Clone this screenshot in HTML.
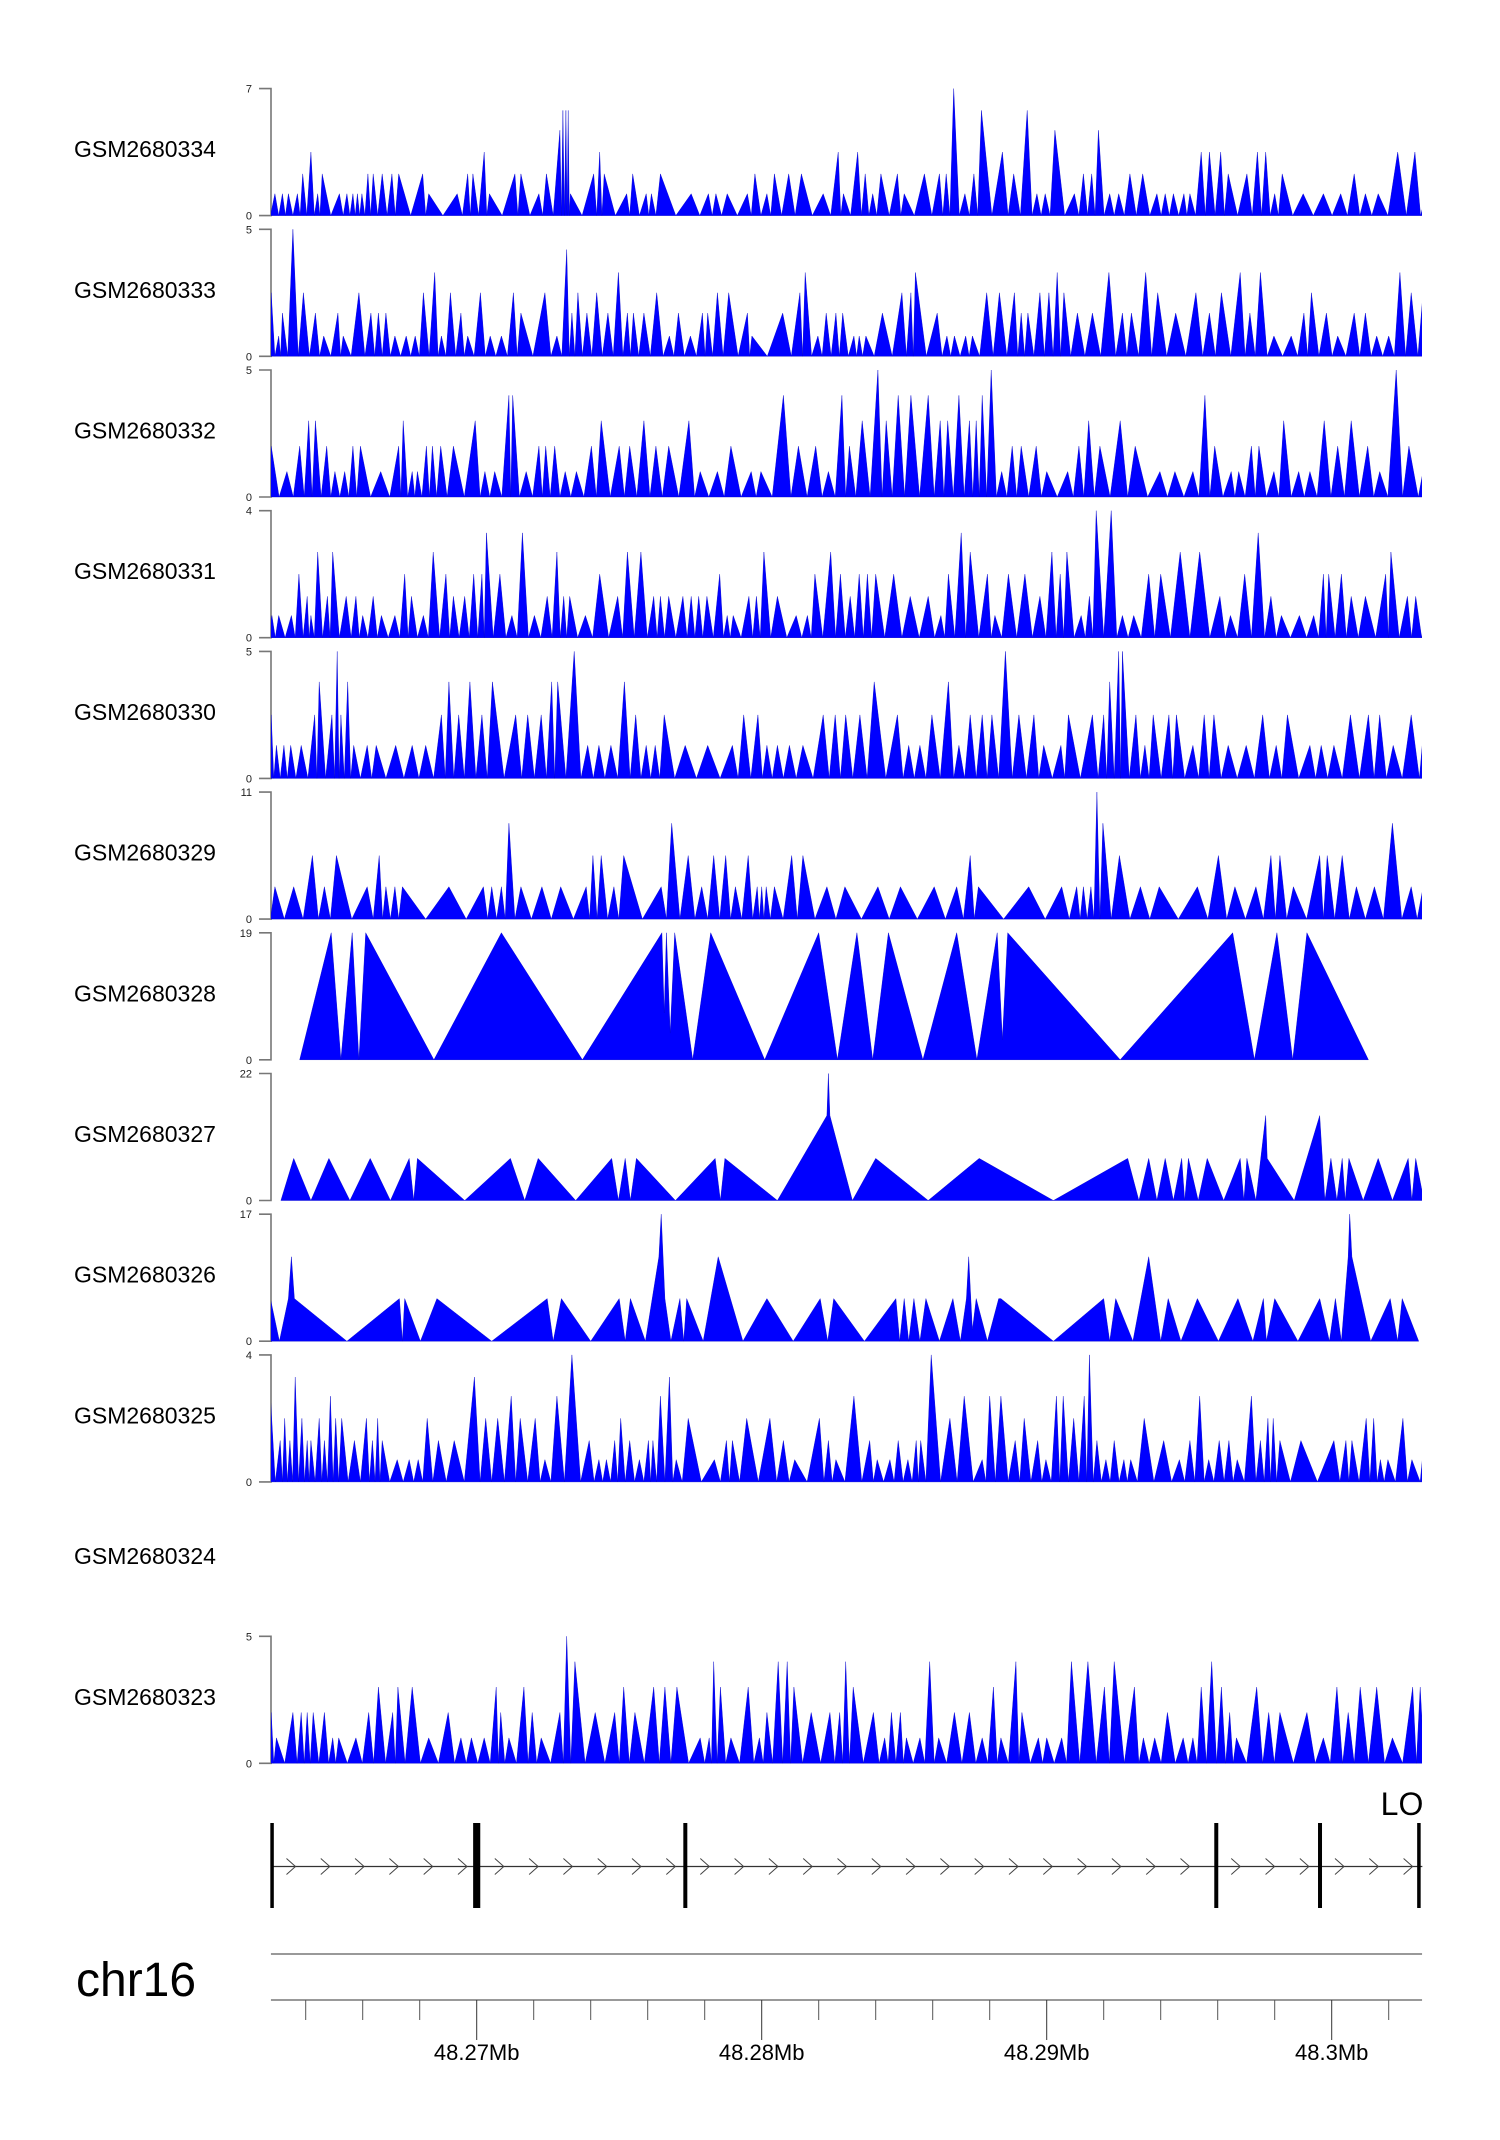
<!DOCTYPE html>
<html><head><meta charset="utf-8">
<style>
html,body{margin:0;padding:0;background:#fff;}
svg{display:block;font-family:"Liberation Sans",Arial,sans-serif;}
</style></head>
<body>
<svg id="chart" width="1500" height="2140" viewBox="0 0 1500 2140" xmlns="http://www.w3.org/2000/svg">
<defs><clipPath id="plotClip"><rect x="271" y="0" width="1151" height="2140"/></clipPath></defs>
<g id="tracks"></g>
<g id="gene"></g>
<g id="axis"></g>
</svg>
<script>
// ---- data ----
const REF_START_KB = 48262.394;   // genomic start of bin 0 (kb)
const BIN_KB = 0.026316;          // bin size (kb)
const trackNames = ["GSM2680334","GSM2680333","GSM2680332","GSM2680331","GSM2680330","GSM2680329","GSM2680328","GSM2680327","GSM2680326","GSM2680325","GSM2680324","GSM2680323"];
const trackMax = [7,5,5,4,5,11,19,22,17,4,null,5];

// peak-style tracks: [bin, value]
const gsm2680334 = [[20,1.2],[30,1.2],[38,1.2],[50,1.2],[57,2.3],[68,3.5],[77,1.2],[83,2.3],[106,1.2],[116,1.2],[124,1.2],[130,1.2],[136,1.2],[144,2.3],[151,2.3],[163,2.3],[176,2.3],[185,2.3],[217,2.3],[225,1.2],[263,1.2],[277,2.3],[284,2.3],[299,3.5],[306,1.2],[340,2.3],[348,2.3],[372,1.2],[382,2.3],[400,4.7],[404,5.8],[408,5.8],[411,5.8],[414,1.2],[445,2.3],[453,3.5],[459,2.3],[489,1.2],[497,2.3],[515,1.2],[522,1.2],[534,2.3],[575,1.2],[598,1.2],[608,1.2],[623,1.2],[650,1.2],[660,2.3],[676,1.2],[686,2.3],[705,2.3],[722,2.3],[751,1.2],[771,3.5],[778,1.2],[797,3.5],[807,2.3],[817,1.2],[828,2.3],[850,2.3],[859,1.2],[886,2.3],[906,2.3],[915,2.3],[925,7],[940,1.2],[952,2.3],[962,5.8],[990,3.5],[1005,2.3],[1023,5.8],[1036,1.2],[1047,1.2],[1060,4.7],[1086,1.2],[1098,2.3],[1109,2.3],[1118,4.7],[1133,1.2],[1145,1.2],[1160,2.3],[1177,2.3],[1196,1.2],[1207,1.2],[1218,1.2],[1232,1.2],[1240,1.2],[1255,3.5],[1266,3.5],[1281,3.5],[1291,2.3],[1316,2.3],[1330,3.5],[1341,3.5],[1353,1.2],[1363,2.3],[1391,1.2],[1418,1.2],[1441,1.2],[1459,2.3],[1474,1.2],[1491,1.2],[1517,3.5],[1540,3.5],[1555,1.2]];
const gsm2680333 = [[15,2.5],[25,.8],[30,1.7],[44,5],[58,2.5],[74,1.7],[85,.8],[104,1.7],[111,.8],[132,2.5],[148,1.7],[158,1.7],[168,1.7],[180,.8],[195,.8],[207,.8],[218,2.5],[233,3.3],[242,.8],[254,2.5],[268,1.7],[277,.8],[294,2.5],[307,.8],[322,.8],[338,2.5],[348,1.7],[380,2.5],[396,.8],[409,4.2],[416,1.7],[424,2.5],[436,1.7],[449,2.5],[464,1.7],[478,3.3],[490,1.7],[498,1.7],[512,1.7],[529,2.5],[546,.8],[558,1.7],[574,.8],[590,1.7],[597,1.7],[610,2.5],[625,2.5],[650,1.7],[656,.8],[697,1.7],[720,2.5],[727,3.3],[744,.8],[755,1.7],[768,1.7],[777,1.7],[792,.8],[799,.8],[808,.8],[830,1.7],[856,2.5],[868,2.5],[874,3.3],[903,1.7],[916,.8],[926,.8],[941,.8],[950,.8],[969,2.5],[986,2.5],[1006,2.5],[1015,1.7],[1024,1.7],[1040,2.5],[1052,2.5],[1063,3.3],[1072,2.5],[1090,1.7],[1110,1.7],[1132,3.3],[1150,1.7],[1162,1.7],[1181,3.3],[1197,2.5],[1221,1.7],[1248,2.5],[1266,1.7],[1282,2.5],[1307,3.3],[1320,1.7],[1334,3.3],[1352,.8],[1375,.8],[1392,1.7],[1402,2.5],[1422,1.7],[1437,.8],[1459,1.7],[1474,1.7],[1489,.8],[1505,.8],[1520,3.3],[1535,2.5],[1553,3.3]];
const gsm2680332 = [[15,2],[36,1],[53,2],[65,3],[74,3],[89,2],[100,1],[113,1],[124,2],[134,2],[161,1],[185,2],[191,3],[203,1],[210,1],[222,2],[230,2],[241,2],[258,2],[287,3],[300,1],[313,1],[332,4],[337,4],[355,1],[372,2],[381,2],[393,2],[407,1],[422,1],[442,2],[455,3],[479,2],[493,2],[512,3],[528,2],[545,2],[572,3],[587,1],[610,1],[628,2],[655,1],[668,1],[698,4],[718,2],[741,2],[758,1],[776,4],[786,2],[803,3],[824,5],[835,3],[851,4],[868,4],[891,4],[907,3],[917,3],[932,4],[946,3],[955,3],[963,4],[975,5],[989,1],[1003,2],[1015,2],[1035,2],[1049,1],[1077,1],[1092,2],[1105,3],[1120,2],[1147,3],[1167,2],[1200,1],[1220,1],[1244,1],[1260,4],[1273,2],[1295,1],[1305,1],[1322,2],[1332,2],[1352,1],[1365,3],[1385,1],[1400,1],[1419,3],[1437,2],[1455,3],[1477,2],[1493,1],[1515,5],[1532,2],[1557,2]];
const gsm2680331 = [[16,.7],[25,.7],[42,.7],[52,2],[63,1.3],[68,.7],[77,2.7],[90,1.3],[97,2.7],[115,1.3],[128,1.3],[137,.7],[151,1.3],[162,.7],[180,.7],[193,2],[202,1.3],[218,.7],[231,2.7],[248,2],[258,1.3],[273,1.3],[285,2],[296,2],[302,3.3],[320,2],[336,.7],[350,3.3],[366,.7],[383,1.3],[396,2.7],[405,1.3],[413,1.3],[434,.7],[453,2],[477,1.3],[490,2.7],[508,2.7],[525,1.3],[534,1.3],[545,1.3],[564,1.3],[575,1.3],[585,1.3],[596,1.3],[613,2],[623,.7],[631,.7],[652,1.3],[662,1.3],[672,2.7],[690,1.3],[715,.7],[730,.7],[740,2],[761,2.7],[774,2],[787,1.3],[799,2],[810,2],[821,2],[845,2],[867,1.3],[891,1.3],[908,.7],[918,2],[935,3.3],[947,2.7],[970,2],[980,.7],[998,2],[1020,2],[1040,1.3],[1056,2.7],[1067,2],[1076,2.7],[1095,.7],[1106,1.3],[1115,4],[1135,4],[1150,.7],[1165,.7],[1185,2],[1201,2],[1227,2.7],[1253,2.7],[1280,1.3],[1294,.7],[1313,2],[1331,3.3],[1348,1.3],[1362,.7],[1386,.7],[1405,.7],[1418,2],[1425,2],[1442,2],[1455,1.3],[1474,1.3],[1501,2],[1508,2.7],[1530,1.3],[1541,1.3],[1557,1.3]];
const gsm2680330 = [[15,2.5],[22,1.3],[32,1.3],[41,1.3],[55,1.3],[73,2.5],[79,3.8],[96,2.5],[103,5],[108,2.5],[117,3.8],[125,1.3],[143,1.3],[155,1.3],[181,1.3],[203,1.3],[221,1.3],[242,2.5],[252,3.8],[265,2.5],[280,3.8],[296,2.5],[310,3.8],[341,2.5],[357,2.5],[375,2.5],[389,3.8],[397,3.8],[419,5],[437,1.3],[452,1.3],[468,1.3],[486,3.8],[501,2.5],[515,1.3],[527,1.3],[539,2.5],[567,1.3],[597,1.3],[630,1.3],[645,2.5],[664,2.5],[676,1.3],[690,1.3],[706,1.3],[724,1.3],[751,2.5],[767,2.5],[781,2.5],[800,2.5],[819,3.8],[850,2.5],[865,1.3],[880,1.3],[896,2.5],[918,3.8],[932,1.3],[947,2.5],[963,2.5],[976,2.5],[994,5],[1012,2.5],[1032,2.5],[1045,1.3],[1068,1.3],[1078,2.5],[1110,2.5],[1125,2.5],[1133,3.8],[1145,5],[1150,5],[1168,2.5],[1180,1.3],[1191,2.5],[1212,2.5],[1222,2.5],[1244,1.3],[1259,2.5],[1272,2.5],[1291,1.3],[1315,1.3],[1337,2.5],[1355,1.3],[1370,2.5],[1400,1.3],[1415,1.3],[1432,1.3],[1454,2.5],[1478,2.5],[1493,2.5],[1511,1.3],[1535,2.5],[1557,3.8]];
const gsm2680329 = [[20,2.8],[45,2.8],[70,5.5],[86,2.8],[102,5.5],[143,2.8],[159,5.5],[168,2.8],[180,2.8],[190,2.8],[252,2.8],[298,2.8],[309,2.8],[322,2.8],[332,8.3],[348,2.8],[376,2.8],[401,2.8],[435,2.8],[444,5.5],[455,5.5],[472,2.8],[485,5.5],[535,2.8],[549,8.3],[571,5.5],[589,2.8],[605,5.5],[621,5.5],[634,2.8],[651,5.5],[663,2.8],[669,2.8],[675,2.8],[686,2.8],[709,5.5],[724,5.5],[756,2.8],[780,2.8],[824,2.8],[854,2.8],[899,2.8],[929,2.8],[947,5.5],[958,2.8],[1025,2.8],[1069,2.8],[1089,2.8],[1098,2.8],[1108,2.8],[1116,11],[1124,8.3],[1146,5.5],[1174,2.8],[1199,2.8],[1250,2.8],[1278,5.5],[1300,2.8],[1328,2.8],[1348,5.5],[1360,5.5],[1378,2.8],[1413,5.5],[1423,5.5],[1443,5.5],[1462,2.8],[1486,2.8],[1510,8.3],[1535,2.8],[1551,2.8]];
const gsm2680325 = [[14,2.7],[27,1.3],[33,2],[40,1.3],[47,3.3],[56,2],[63,1.3],[68,1.3],[79,2],[86,1.3],[94,2.7],[101,2],[109,2],[126,1.3],[142,2],[150,1.3],[157,2],[163,1.3],[183,.7],[199,.7],[211,.7],[223,2],[238,1.3],[259,1.3],[286,3.3],[301,2],[317,2],[335,2.7],[347,2],[367,2],[380,.7],[396,2.7],[416,4],[439,1.3],[452,.7],[462,.7],[473,1.3],[481,2],[493,1.3],[506,.7],[518,1.3],[524,1.3],[534,2.7],[546,3.3],[555,.7],[571,2],[606,.7],[622,1.3],[630,1.3],[649,2],[680,2],[698,1.3],[713,.7],[746,2],[758,1.3],[768,.7],[792,2.7],[813,1.3],[823,.7],[840,.7],[851,1.3],[864,.7],[875,1.3],[881,1.3],[895,4],[920,2],[939,2.7],[963,.7],[973,2.7],[988,2.7],[1007,1.3],[1019,2],[1037,1.3],[1048,.7],[1062,2.7],[1071,2.7],[1085,2],[1099,2.7],[1106,4],[1116,1.3],[1128,.7],[1139,1.3],[1152,.7],[1161,.7],[1179,2],[1205,1.3],[1226,.7],[1240,1.3],[1253,2.7],[1265,.7],[1279,1.3],[1292,1.3],[1303,.7],[1322,2.7],[1334,1.3],[1344,2],[1351,2],[1360,1.3],[1388,1.3],[1432,1.3],[1448,1.3],[1456,1.3],[1475,2],[1485,2],[1494,.7],[1504,.7],[1524,2],[1536,.7],[1558,2.7]];
const gsm2680324 = [];
const gsm2680323 = [[15,2],[22,1],[44,2],[55,2],[63,2],[71,2],[86,2],[97,1],[105,1],[128,1],[145,2],[158,3],[177,2],[184,3],[203,3],[225,1],[251,2],[268,1],[282,1],[299,1],[315,3],[321,2],[332,1],[352,3],[363,2],[375,1],[400,2],[409,5],[420,4],[447,2],[473,2],[485,3],[500,2],[525,3],[540,3],[556,3],[587,1],[599,1],[605,4],[614,3],[628,1],[651,3],[666,1],[676,2],[691,4],[703,4],[712,3],[735,2],[760,2],[773,2],[781,4],[791,3],[818,2],[833,1],[842,2],[854,2],[862,1],[880,1],[893,4],[905,1],[926,2],[946,2],[963,1],[978,3],[988,1],[1008,4],[1016,2],[1038,1],[1049,1],[1069,1],[1082,4],[1104,4],[1126,3],[1139,4],[1166,3],[1178,1],[1193,1],[1210,2],[1231,1],[1244,1],[1255,3],[1269,4],[1282,3],[1293,2],[1302,1],[1329,3],[1345,2],[1360,2],[1396,2],[1418,1],[1436,3],[1451,2],[1467,3],[1489,3],[1510,1],[1537,3],[1547,3],[1558,4]];

// full-profile tracks: [bin, value] including zero points
const gsm2680328 = [[53,0],[95,19],[108,0],[123,19],[132,0],[141,19],[232,0],[322,19],[430,0],[536,19],[539,7],[542,19],[547,4],[553,19],[577,0],[601,19],[673,0],[745,19],[770,0],[796,19],[817,0],[838,19],[884,0],[929,19],[956,0],[983,19],[990,3],[997,19],[1147,0],[1297,19],[1326,0],[1356,19],[1377,0],[1396,19],[1478,0]];
const gsm2680327 = [[28,0],[45,7.3],[68,0],[92,7.3],[120,0],[147,7.3],[174,0],[199,7.3],[205,0],[210,7.3],[273,0],[334,7.3],[353,0],[371,7.3],[421,0],[469,7.3],[478,0],[487,7.3],[494,0],[502,7.3],[554,0],[607,7.3],[614,0],[620,7.3],[690,0],[756,14.7],[758,22],[760,14.7],[790,0],[821,7.3],[891,0],[959,7.3],[1058,0],[1157,7.3],[1172,0],[1185,7.3],[1196,0],[1207,7.3],[1218,0],[1229,7.3],[1233,0],[1238,7.3],[1251,0],[1263,7.3],[1285,0],[1307,7.3],[1312,0],[1316,7.3],[1328,0],[1341,14.7],[1343,7.3],[1379,0],[1413,14.7],[1420,0],[1428,7.3],[1436,0],[1443,7.3],[1447,0],[1452,7.3],[1471,0],[1491,7.3],[1510,0],[1531,7.3],[1536,0],[1541,7.3],[1552,0]];
const gsm2680326 = [[12,0],[14,5.7],[26,0],[38,5.7],[42,11.3],[46,5.7],[116,0],[186,5.7],[190,0],[193,5.7],[214,0],[236,5.7],[309,0],[383,5.7],[391,0],[402,5.7],[441,0],[479,5.7],[487,0],[494,5.7],[514,0],[532,11.3],[535,17],[540,5.7],[548,0],[560,5.7],[565,0],[569,5.7],[591,0],[611,11.3],[644,0],[676,5.7],[711,0],[747,5.7],[757,0],[765,5.7],[806,0],[848,5.7],[853,0],[859,5.7],[865,0],[872,5.7],[880,0],[888,5.7],[906,0],[924,5.7],[934,0],[942,5.7],[945,11.3],[950,1.5],[955,5.7],[970,0],[985,5.7],[988,5.7],[1058,0],[1125,5.7],[1133,0],[1141,5.7],[1164,0],[1185,11.3],[1201,0],[1211,5.7],[1228,0],[1250,5.7],[1278,0],[1304,5.7],[1324,0],[1338,5.7],[1342,0],[1353,5.7],[1384,0],[1413,5.7],[1426,0],[1434,5.7],[1442,0],[1451,11.3],[1453,17],[1456,11.3],[1481,0],[1507,5.7],[1517,0],[1523,5.7],[1545,0]];

const peakTracks = [gsm2680334,gsm2680333,gsm2680332,gsm2680331,gsm2680330,gsm2680329,null,null,null,gsm2680325,gsm2680324,gsm2680323];
const profileTracks = [null,null,null,null,null,null,gsm2680328,gsm2680327,gsm2680326,null,null,null];

// gene model (kb positions)
const exonStartsKb = [48262.82,48270.00,48277.32,48295.95,48299.59,48303.06];
const exonLengthsKb = [0.12,0.25,0.14,0.14,0.14,0.12];
const geneName = "LO";
const majorTicksMb = [48.27,48.28,48.29,48.3];
const majorTickLabels = ["48.27Mb","48.28Mb","48.29Mb","48.3Mb"];
const minorTickKb = [48264,48266,48268,48272,48274,48276,48278,48282,48284,48286,48288,48292,48294,48296,48298,48302];
const chromName = "chr16";
const axisStartKb = 48262.78, axisEndKb = 48303.17;

// ---- scales ----
const NS = "http://www.w3.org/2000/svg";
function xKb(kb){ return 476.7 + (kb - 48270) * 28.5; }
function xBin(b){ return xKb(REF_START_KB + b * BIN_KB); }
const TRACK_TOP0 = 88.6, TRACK_STEP = 140.7, TRACK_H = 127;
function trackTop(i){ return TRACK_TOP0 + i * TRACK_STEP; }
function yVal(v, i){ return trackTop(i) + TRACK_H - (v / trackMax[i]) * TRACK_H; }
function mk(tag, attrs, parent){ const e = document.createElementNS(NS, tag); for (const k in attrs) e.setAttribute(k, attrs[k]); parent.appendChild(e); return e; }

const gT = document.getElementById('tracks');
trackNames.forEach((name, i) => {
  const top = trackTop(i), base = top + TRACK_H, cy = top + TRACK_H / 2;
  const g = mk('g', {}, gT);
  
  
  const lab = mk('text', {x: 74, y: cy + 5, 'font-size': 23, fill: '#000'}, g);
  lab.textContent = name;
  
  
  if (trackMax[i] === null) return;
  const ax = mk('path', {d: `M259,${top}H271V${base}H259`, fill: 'none', stroke: '#777', 'stroke-width': 1.6}, g);
  
  
  const tTop = mk('text', {x: 252, y: top + 4, 'font-size': 11, 'text-anchor': 'end', fill: '#222'}, g);
  tTop.textContent = String(trackMax[i]);
  
  
  const tBot = mk('text', {x: 252, y: base + 4, 'font-size': 11, 'text-anchor': 'end', fill: '#222'}, g);
  tBot.textContent = '0';
  
  
  let pts = [];
  if (peakTracks[i] && peakTracks[i].length) {
    const d = peakTracks[i];
    pts.push([xBin(d[0][0] - 6), base]);
    d.forEach((p, k) => {
      if (k > 0) pts.push([xBin((d[k-1][0] + p[0]) / 2), base]);
      pts.push([xBin(p[0]), yVal(p[1], i)]);
    });
    pts.push([xBin(d[d.length-1][0] + 6), base]);
  } else if (profileTracks[i]) {
    const d = profileTracks[i];
    pts.push([xBin(d[0][0]), base]);
    d.forEach(p => pts.push([xBin(p[0]), yVal(p[1], i)]));
    pts.push([xBin(d[d.length-1][0]), base]);
  }
  if (pts.length) {
    const poly = mk('polygon', {points: pts.map(p => p[0].toFixed(1) + ',' + p[1].toFixed(1)).join(' '), fill: '#0000ff', stroke: '#0000cc', 'stroke-width': 0.4, 'clip-path': 'url(#plotClip)'}, g);
    
    
  }
});

// gene model
const gG = document.getElementById('gene');
const geneTop = 1823, geneBot = 1908, geneMid = 1866.5;
const geneStartX = xKb(exonStartsKb[0]), geneEndX = xKb(exonStartsKb[exonStartsKb.length-1] + exonLengthsKb[exonLengthsKb.length-1]);
const intronLine = mk('line', {x1: geneStartX, x2: geneEndX, y1: geneMid, y2: geneMid, stroke: '#333', 'stroke-width': 1.2}, gG);


for (let k = 0; k < exonStartsKb.length - 1; k++) {
  const a = xKb(exonStartsKb[k] + exonLengthsKb[k]), b = xKb(exonStartsKb[k+1]);
  for (let x = a + 15; x < b - 6; x += 34.3) {
    const ch = mk('path', {d: `M${x-4},${geneMid-8}L${x+5},${geneMid}L${x-4},${geneMid+8}`, fill: 'none', stroke: '#444', 'stroke-width': 1}, gG);
    
    
  }
}
exonStartsKb.forEach((s, k) => {
  const x0 = xKb(s), w = Math.max(3.5, exonLengthsKb[k] * 28.5);
  const r = mk('rect', {x: x0 - w / 2, y: geneTop, width: w, height: geneBot - geneTop, fill: '#000'}, gG);
  
  
});
const gn = mk('text', {x: geneEndX + 1, y: 1815, 'font-size': 32, 'text-anchor': 'end', fill: '#000'}, gG);
gn.textContent = geneName;



// genome axis
const gA = document.getElementById('axis');
const axX0 = xKb(axisStartKb), axX1 = xKb(axisEndKb);
const AXIS_Y = 2000;
const cl = mk('text', {x: 76, y: 1996, 'font-size': 48, fill: '#000'}, gA);
cl.textContent = chromName;


const l1 = mk('line', {x1: axX0, x2: axX1, y1: 1954, y2: 1954, stroke: '#999', 'stroke-width': 2}, gA);


const l2 = mk('line', {x1: axX0, x2: axX1, y1: AXIS_Y, y2: AXIS_Y, stroke: '#999', 'stroke-width': 2}, gA);


minorTickKb.forEach(kb => {
  const x = xKb(kb);
  const t = mk('line', {x1: x, x2: x, y1: AXIS_Y, y2: 2020, stroke: '#555', 'stroke-width': 1}, gA);
  
  
});
majorTicksMb.forEach((mb, k) => {
  const x = xKb(mb * 1000);
  const t = mk('line', {x1: x, x2: x, y1: AXIS_Y, y2: 2040, stroke: '#333', 'stroke-width': 1}, gA);
  
  
  const tl = mk('text', {x: x, y: 2060, 'font-size': 22, 'text-anchor': 'middle', fill: '#000'}, gA);
  tl.textContent = majorTickLabels[k];
  
  
});
</script>
</body></html>
